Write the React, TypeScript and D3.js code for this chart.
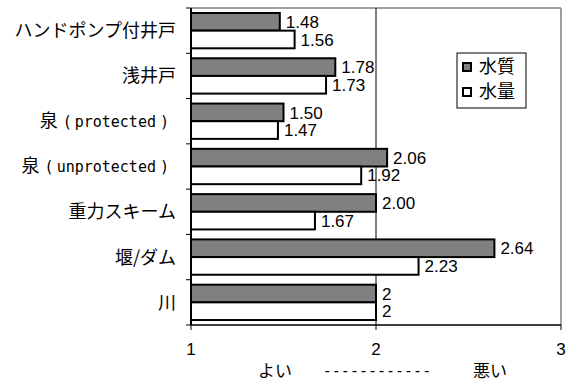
import React from "react";
import * as d3 from "d3";

const categories = ["ハンドポンプ付井戸", "浅井戸", "泉（protected）", "泉（unprotected）", "重力スキーム", "堰/ダム", "川"];
const quality = [1.48, 1.78, 1.5, 2.06, 2.0, 2.64, 2];
const quantity = [1.56, 1.73, 1.47, 1.92, 1.67, 2.23, 2];
const qualityLabels = ["1.48", "1.78", "1.50", "2.06", "2.00", "2.64", "2"];
const quantityLabels = ["1.56", "1.73", "1.47", "1.92", "1.67", "2.23", "2"];
const seriesNames = ["水質", "水量"];
const xTicks = [1, 2, 3];

const W = 566, H = 383;
const left = 191, right = 561, top = 8, bottom = 325;
const LAT = "'Liberation Sans', Arial, sans-serif";
const CJK = "'Noto Sans CJK JP', 'Liberation Sans', sans-serif";
const MONO = "'DejaVu Sans Mono', monospace";

function CatLabel({ label, y }: { label: string; y: number }) {
  const m = label.match(/^(.*)（(.*)）$/);
  if (!m) {
    return (
      <text x={176} y={y} dy="0.36em" textAnchor="end" fontFamily={CJK} fontSize={18} fill="#000">
        {label}
      </text>
    );
  }
  return (
    <text x={169} y={y} dy="0.36em" textAnchor="end" fill="#000">
      <tspan fontFamily={CJK} fontSize={18}>{m[1]}</tspan>
      <tspan fontFamily={MONO} fontSize={15} dx={5}>(</tspan>
      <tspan fontFamily={MONO} fontSize={15} dx={3}>{m[2]}</tspan>
      <tspan fontFamily={MONO} fontSize={15} dx={4}>)</tspan>
    </text>
  );
}

export default function App() {
  const x = d3.scaleLinear().domain([1, 3]).range([left, right]);
  const y = d3.scaleBand<string>().domain(categories).range([top, bottom]).paddingInner(0.22).paddingOuter(0.11);
  const sub = d3.scaleBand<string>().domain(seriesNames).range([0, y.bandwidth()]);
  const series = [
    { name: seriesNames[0], values: quality, labels: qualityLabels, fill: "#808080" },
    { name: seriesNames[1], values: quantity, labels: quantityLabels, fill: "#ffffff" },
  ];
  const step = y.step();
  const tickYs = d3.range(categories.length + 1).map((i) => top + i * step);

  return (
    <div style={{ position: "absolute", left: 0, top: 0 }}>
      <svg width={W} height={H} style={{ display: "block", background: "#fff" }}>
        {/* plot border */}
        <line x1={left} x2={right} y1={top} y2={top} stroke="#808080" strokeWidth={1.5} />
        <line x1={right} x2={right} y1={top} y2={bottom} stroke="#808080" strokeWidth={1.5} />
        {/* gridline at 2 */}
        <line x1={x(2)} x2={x(2)} y1={top} y2={bottom} stroke="#000" strokeWidth={1} />
        {/* bars */}
        {series.map((s) =>
          categories.map((c, i) => {
            const yy = (y(c) as number) + (sub(s.name) as number);
            const h = sub.bandwidth();
            return (
              <g key={s.name + c}>
                <rect x={x(1)} y={yy} width={x(s.values[i]) - x(1)} height={h} fill={s.fill} stroke="#000" strokeWidth={2} />
                <text x={x(s.values[i]) + 6} y={yy + h / 2} dy="0.36em" fontFamily={LAT} fontSize={17} fill="#000">
                  {s.labels[i]}
                </text>
              </g>
            );
          })
        )}
        {/* axes */}
        <line x1={left} x2={left} y1={top} y2={bottom} stroke="#000" strokeWidth={2} />
        {tickYs.map((t, i) => (
          <line key={"yt" + i} x1={left - 5} x2={left} y1={t} y2={t} stroke="#000" strokeWidth={1} />
        ))}
        <line x1={left} x2={right} y1={bottom} y2={bottom} stroke="#000" strokeWidth={1.5} />
        {xTicks.map((t) => (
          <g key={"xt" + t}>
            <line x1={x(t)} x2={x(t)} y1={bottom} y2={bottom + 5} stroke="#000" strokeWidth={1} />
            <text x={x(t)} y={355} textAnchor="middle" fontFamily={LAT} fontSize={17} fill="#000">
              {t}
            </text>
          </g>
        ))}
        {/* category labels */}
        {categories.map((c) => (
          <CatLabel key={"cl" + c} label={c} y={(y(c) as number) + y.bandwidth() / 2} />
        ))}
        {/* axis title */}
        <text x={275} y={377} textAnchor="middle" fontFamily={CJK} fontSize={17} fill="#000">よい</text>
        <text x={377} y={376} textAnchor="middle" fontFamily={MONO} fontSize={15} fill="#000">------------</text>
        <text x={490} y={377} textAnchor="middle" fontFamily={CJK} fontSize={17} fill="#000">悪い</text>
        {/* legend */}
        <rect x={457} y={53} width={69} height={55} fill="#fff" stroke="#000" strokeWidth={1} />
        {series.map((s, i) => (
          <g key={"lg" + s.name} transform={`translate(463, ${67 + i * 25})`}>
            <rect x={0} y={-4} width={8} height={8} fill={s.fill} stroke="#000" strokeWidth={2} />
            <text x={16} y={0} dy="0.36em" fontFamily={CJK} fontSize={18} fill="#000">{s.name}</text>
          </g>
        ))}
      </svg>
    </div>
  );
}
